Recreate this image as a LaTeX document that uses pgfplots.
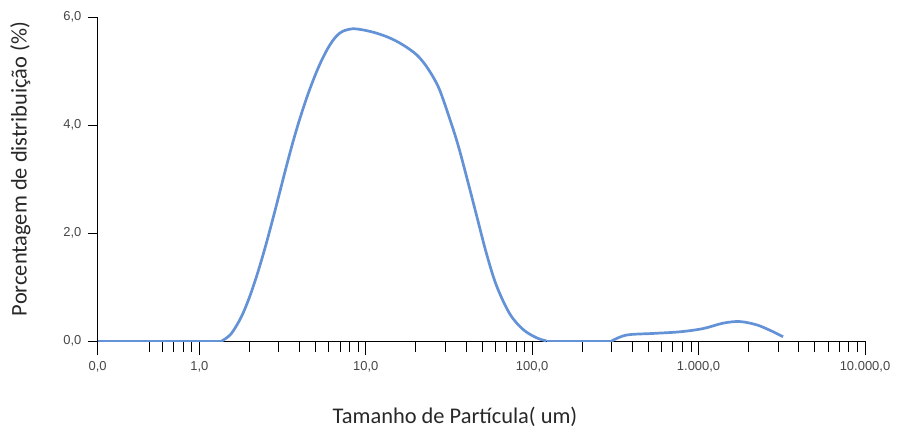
\documentclass[border=0pt]{standalone}
\usepackage{pgfplots}
\pgfplotsset{compat=1.18}
\usepackage{fontspec}
\setmainfont{Carlito}
\newfontfamily\tickfont{Liberation Sans}
\definecolor{curve}{RGB}{100,146,214}
\definecolor{ticktext}{RGB}{70,70,70}
\definecolor{labeltext}{RGB}{40,40,40}
\begin{document}
\begin{tikzpicture}
\begin{axis}[
  name=ax,
  at={(0,0)}, anchor=south west,
  scale only axis,
  width=767.3bp, height=324bp,
  xmode=log,
  xmin=0.245, xmax=10000,
  ymin=0, ymax=6,
  axis x line=bottom, axis y line=left,
  axis line style={-, black, line width=0.9bp},
  tick align=outside,
  xtick={0.245,1,10,100,1000,10000},
  xticklabels={{0,0},{1,0},{10,0},{100,0},{1.000,0},{10.000,0}},
  minor xtick={0.5,0.6,0.7,0.8,0.9,2,3,4,5,6,7,8,9,20,30,40,50,60,70,80,90,200,300,400,500,600,700,800,900,2000,3000,4000,5000,6000,7000,8000,9000},
  ytick={0,2,4,6},
  yticklabels={{0,0},{2,0},{4,0},{6,0}},
  xtick style={black, line width=0.9bp, /pgfplots/major tick length=14bp, /pgfplots/minor tick length=11bp},
  ytick style={black, line width=0.9bp, /pgfplots/major tick length=10bp},
  tick label style={font=\tickfont\fontsize{13}{15}\selectfont, text=ticktext},
  x tick label style={anchor=north, yshift=-13bp},
  y tick label style={anchor=east, xshift=-8.5bp},
  xlabel={Tamanho de Partícula( um)},
  ylabel={Porcentagem de distribuição (\%)},
  label style={font=\fontsize{22.5}{26}\selectfont, text=labeltext},
  xlabel style={at={(axis description cs:0.4657,-0.254)}, anchor=base},
  ylabel style={at={(axis description cs:-0.0925,0.531)}, anchor=base, rotate=0},
  clip=false,
]
% flat start
\addplot[color=curve, line width=2.7bp] coordinates {(0.245,0) (1.363,0)};
% main peak
\addplot[color=curve, line width=2.7bp, smooth, tension=0.55] coordinates {
(1.363,0) (1.549,0.13) (1.778,0.433) (1.995,0.80) (2.239,1.258) (2.512,1.783)
(2.818,2.358) (3.055,2.778) (3.311,3.198) (3.631,3.658) (3.981,4.078)
(4.467,4.547) (5.012,4.953) (5.495,5.23) (6.026,5.461) (6.607,5.633)
(7.244,5.733) (8.318,5.781) (9.66,5.76) (11.63,5.70) (13.98,5.61)
(16.8,5.48) (20.22,5.30) (23.22,5.08) (26.67,4.77) (29.21,4.47)
(35.15,3.72) (40.36,3.04) (46.37,2.32) (53.23,1.61) (61.13,1.02)
(73.47,0.50) (88.3,0.212) (106.2,0.06) (122,0)
};
% flat middle
\addplot[color=curve, line width=2.7bp] coordinates {(122,0) (300,0)};
% coarse tail
\addplot[color=curve, line width=2.7bp, smooth, tension=0.55] coordinates {
(300,0) (369,0.11) (533,0.14) (771,0.17) (1064,0.23)
(1403,0.33) (1767,0.36) (2227,0.30) (2678,0.20) (3219,0.08)
};
\end{axis}
\pgfresetboundingbox
\path[use as bounding box] (-97.7bp,-88bp) rectangle (800.3bp,341bp);
\end{tikzpicture}
\end{document}
